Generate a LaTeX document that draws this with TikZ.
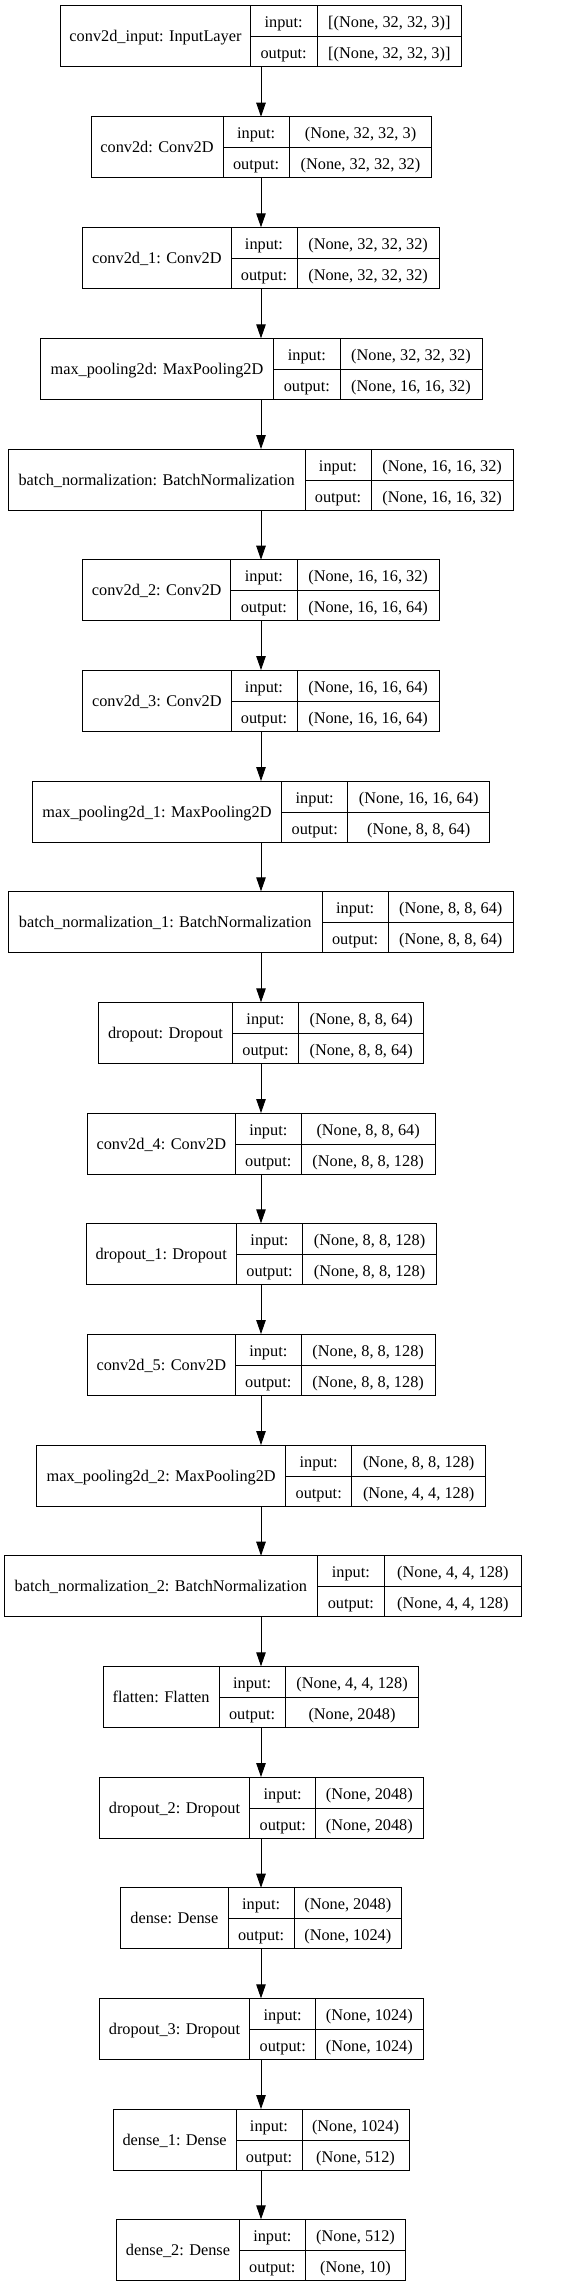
\documentclass[tikz,border=0pt]{standalone}
\usepackage{fontspec}
\setmainfont{Liberation Serif}
\usetikzlibrary{arrows.meta}
\tikzset{
  layerbox/.style={draw=black, line width=0.9pt, rectangle, inner sep=0pt, outer sep=0pt, minimum height=61pt},
  sepline/.style={draw=black, line width=0.9pt},
  txt/.style={inner sep=0pt, outer sep=0pt, anchor=base, font=\fontsize{16.3}{19}\selectfont},
  arr/.style={draw=black, line width=0.9pt, -{Triangle[length=14pt,width=9.5pt]}}
}
\newcommand\mylayer[9]{%
  \pgfmathsetmacro\bw{#6-#3}%
  \pgfmathsetmacro\bcx{(#6+#3)/2}%
  \pgfmathsetmacro\bcy{#2+30.5}%
  \node[layerbox, minimum width=\bw pt] (#1) at (\bcx,\bcy) {};
  \draw[sepline] (#4,#2) -- (#4,#2+61);
  \draw[sepline] (#5,#2) -- (#5,#2+61);
  \draw[sepline] (#4,#2+31) -- (#6,#2+31);
  \node[txt] (#1-lab) at ({(#3+#4)/2},{#2+36}) {#7};
  \node[txt] (#1-ik) at ({(#4+#5)/2},{#2+22}) {input:};
  \node[txt] (#1-ok) at ({(#4+#5)/2},{#2+53}) {output:};
  \node[txt] (#1-iv) at ({(#5+#6)/2},{#2+22}) {#8};
  \node[txt] (#1-ov) at ({(#5+#6)/2},{#2+53}) {#9};
}
\begin{document}
\begin{tikzpicture}[x=1pt,y=-1pt]
\useasboundingbox (0,0) rectangle (579,2287);
\coordinate (ax) at (261,0);
\mylayer{l0}{5.7}{60.7}{250.3}{317}{461.7}{conv2d\_input: InputLayer}{[(None, 32, 32, 3)]}{[(None, 32, 32, 3)]}
\mylayer{l1}{116.7}{91}{223}{289.3}{431.7}{conv2d: Conv2D}{(None, 32, 32, 3)}{(None, 32, 32, 32)}
\mylayer{l2}{227.3}{82.7}{231}{297}{439.3}{conv2d\_1: Conv2D}{(None, 32, 32, 32)}{(None, 32, 32, 32)}
\mylayer{l3}{338.3}{40.3}{273.7}{340}{482}{max\_pooling2d: MaxPooling2D}{(None, 32, 32, 32)}{(None, 16, 16, 32)}
\mylayer{l4}{449}{8.3}{305}{371}{513.3}{batch\_normalization: BatchNormalization}{(None, 16, 16, 32)}{(None, 16, 16, 32)}
\mylayer{l5}{559.7}{82.7}{230.7}{297}{439.3}{conv2d\_2: Conv2D}{(None, 16, 16, 32)}{(None, 16, 16, 64)}
\mylayer{l6}{670}{82.7}{231}{297}{439.3}{conv2d\_3: Conv2D}{(None, 16, 16, 64)}{(None, 16, 16, 64)}
\mylayer{l7}{781}{32.3}{281.7}{347.7}{489.7}{max\_pooling2d\_1: MaxPooling2D}{(None, 16, 16, 64)}{(None, 8, 8, 64)}
\mylayer{l8}{891.3}{8.3}{322}{388.3}{513.3}{batch\_normalization\_1: BatchNormalization}{(None, 8, 8, 64)}{(None, 8, 8, 64)}
\mylayer{l9}{1002.3}{98.7}{232.3}{298.7}{423.7}{dropout: Dropout}{(None, 8, 8, 64)}{(None, 8, 8, 64)}
\mylayer{l10}{1113}{87.3}{235.3}{301.3}{435}{conv2d\_4: Conv2D}{(None, 8, 8, 64)}{(None, 8, 8, 128)}
\mylayer{l11}{1223.3}{86}{236.3}{302.7}{436.3}{dropout\_1: Dropout}{(None, 8, 8, 128)}{(None, 8, 8, 128)}
\mylayer{l12}{1334}{87.3}{235.3}{301.3}{435}{conv2d\_5: Conv2D}{(None, 8, 8, 128)}{(None, 8, 8, 128)}
\mylayer{l13}{1445}{36.7}{285.7}{351.7}{485.7}{max\_pooling2d\_2: MaxPooling2D}{(None, 8, 8, 128)}{(None, 4, 4, 128)}
\mylayer{l14}{1555.7}{4}{317.7}{384}{521.7}{batch\_normalization\_2: BatchNormalization}{(None, 4, 4, 128)}{(None, 4, 4, 128)}
\mylayer{l15}{1666.3}{103.3}{219}{285.3}{418.7}{flatten: Flatten}{(None, 4, 4, 128)}{(None, 2048)}
\mylayer{l16}{1777}{99.3}{249.7}{315.7}{423}{dropout\_2: Dropout}{(None, 2048)}{(None, 2048)}
\mylayer{l17}{1887.7}{120.7}{228}{294.3}{401.3}{dense: Dense}{(None, 2048)}{(None, 1024)}
\mylayer{l18}{1998.3}{99.3}{249.7}{315.7}{423}{dropout\_3: Dropout}{(None, 1024)}{(None, 1024)}
\mylayer{l19}{2109}{113.3}{236}{302}{409}{dense\_1: Dense}{(None, 1024)}{(None, 512)}
\mylayer{l20}{2219.3}{116.7}{239.3}{305.3}{405.7}{dense\_2: Dense}{(None, 512)}{(None, 10)}
\foreach \a/\b in {l0/l1,l1/l2,l2/l3,l3/l4,l4/l5,l5/l6,l6/l7,l7/l8,l8/l9,l9/l10,l10/l11,l11/l12,l12/l13,l13/l14,l14/l15,l15/l16,l16/l17,l17/l18,l18/l19,l19/l20}
  \draw[arr] (\a.south -| ax) -- (\b.north -| ax);
\end{tikzpicture}
\end{document}
